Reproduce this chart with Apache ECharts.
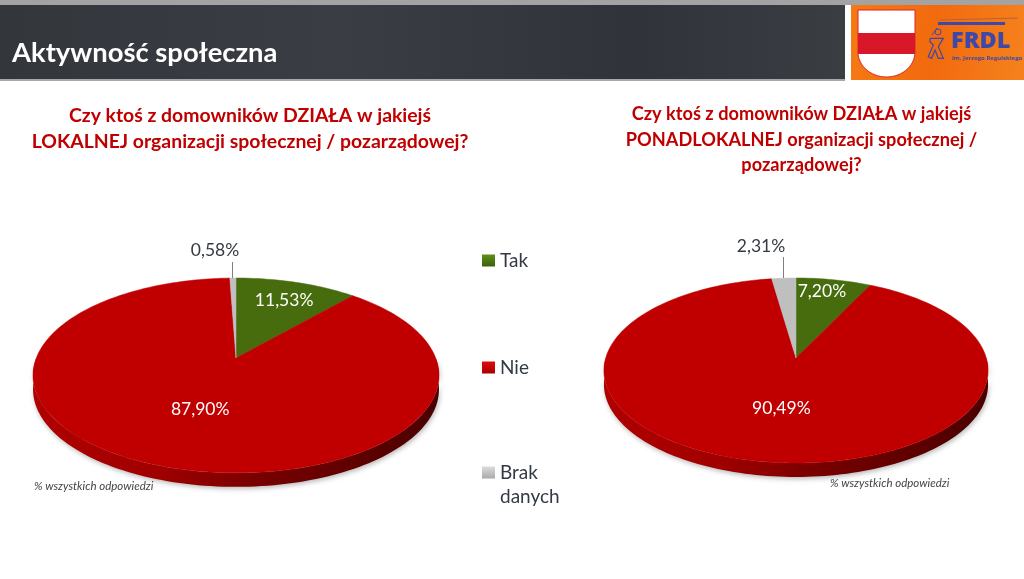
<!DOCTYPE html>
<html><head><meta charset="utf-8">
<style>html,body{margin:0;padding:0;background:#fff}#c{width:1024px;height:579px}</style>
<script src="https://cdn.jsdelivr.net/npm/echarts@6/dist/echarts.min.js"></script>
</head><body><div id="c"></div>
<script>
const categories = ['Tak', 'Nie', 'Brak danych'];
const localValues = [11.53, 87.90, 0.58];
const supraValues = [7.20, 90.49, 2.31];
const localLabels = ['11,53%', '87,90%', '0,58%'];
const supraLabels = ['7,20%', '90,49%', '2,31%'];
const mainTitle = 'Aktywność społeczna';
const localTitle = 'Czy ktoś z domowników DZIAŁA w jakiejś\nLOKALNEJ organizacji społecznej / pozarządowej?';
const supraTitle = 'Czy ktoś z domowników DZIAŁA w jakiejś\nPONADLOKALNEJ organizacji społecznej /\npozarządowej?';
const footnote = '% wszystkich odpowiedzi';

const FONT = 'Lato, "Open Sans", sans-serif';
const colors = ['#466c0e', '#c00000', '#bfbfbf'];
const legendColors = [['#5f8f1c', '#3c600a'], ['#e00a0a', '#a80000'], ['#dcdcdc', '#aaaaaa']];

// Projection of the tilted disc: a homography of the unit circle.
const pies = [
  {values: localValues, labels: localLabels, cx: 236, cy: 358, D: 199.7, A: 94.3, C: 0.179, depth: 14,
   frac: [0.75, 0.5], nudge: [[1, 1], [1, 3]], outer: {x: 215, y: 250, x1: 232.5, y1: 278, y2: 262}},
  {values: supraValues, labels: supraLabels, cx: 796, cy: 358, D: 190.3, A: 90.8, C: 0.135, depth: 14,
   frac: [0.83, 0.5], nudge: [[-6, 0], [1, 2]], outer: {x: 761, y: 246, x1: 783.5, y1: 278, y2: 257}}
];
function proj(p, deg, f) {
  const a = deg * Math.PI / 180, u = Math.sin(a) * f, v = Math.cos(a) * f, d = 1 + p.C * v;
  return [p.cx + p.D * u / d, p.cy - p.A * v / d];
}
function arc(p, a0, a1) {
  const pts = [], n = Math.max(2, Math.ceil((a1 - a0) / 1.5));
  for (let i = 0; i <= n; i++) pts.push(proj(p, a0 + (a1 - a0) * i / n, 1));
  return pts;
}
function makeRender(p, idx) {
  return function () {
    const total = p.values.reduce((s, x) => s + x, 0);
    let start = 0;
    for (let i = 0; i < idx; i++) start += p.values[i];
    const a0 = start / total * 360, a1 = (start + p.values[idx]) / total * 360, mid = (a0 + a1) / 2;
    const children = [];
    // side wall: only for the part of the rim on the near half of the disc
    const s0 = Math.max(a0, 90), s1 = Math.min(a1, 270);
    if (s1 > s0) {
      const rim = arc(p, s0, s1);
      const low = rim.slice().reverse().map(q => [q[0], q[1] + p.depth]);
      children.push({type: 'polygon', shape: {points: rim.concat(low)},
        style: {shadowBlur: 5, shadowColor: 'rgba(0,0,0,0.28)', shadowOffsetY: 2, shadowOffsetX: 1,
          fill: new echarts.graphic.LinearGradient(0, 0, 1, 0, [
          {offset: 0, color: '#b00000'}, {offset: 0.3, color: '#a00000'}, {offset: 0.55, color: '#780000'}, {offset: 1, color: '#4a0000'}])}});
    }
    children.push({type: 'polygon', shape: {points: [[p.cx, p.cy]].concat(arc(p, a0, a1))},
      style: {fill: colors[idx], stroke: colors[idx], lineWidth: 0.5}});
    if (idx === 2) {
      const o = p.outer;
      children.push({type: 'line', shape: {x1: o.x1, y1: o.y1, x2: o.x1, y2: o.y2}, style: {stroke: '#7f7f7f', lineWidth: 1}});
      children.push({type: 'text', x: o.x, y: o.y, style: {text: p.labels[idx], fill: '#333a44', font: '17.5px ' + FONT, align: 'center', verticalAlign: 'middle'}});
    } else {
      const q = proj(p, mid, p.frac[idx]);
      children.push({type: 'text', x: q[0] + p.nudge[idx][0], y: q[1] + p.nudge[idx][1], style: {text: p.labels[idx], fill: '#fff', font: '17.5px ' + FONT, align: 'center', verticalAlign: 'middle'}});
    }
    return {type: 'group', children};
  };
}
const series = [];
pies.forEach(p => categories.forEach((name, i) => series.push({
  type: 'custom', name, coordinateSystem: 'none', silent: true, animation: false,
  itemStyle: {color: new echarts.graphic.LinearGradient(0, 0, 0, 1, [
    {offset: 0, color: legendColors[i][0]}, {offset: 1, color: legendColors[i][1]}])},
  data: [[p.values[i]]], z: i === 2 ? 4 : 3, renderItem: makeRender(p, i)
})));

const legendBase = {orient: 'vertical', itemWidth: 13, itemHeight: 12, icon: 'rect', selectedMode: false, itemGap: 0,
  textStyle: {color: '#333a44', fontSize: 19, fontFamily: FONT}};
const titleL = {color: '#c00000', fontSize: 19.4, fontWeight: 700, fontFamily: FONT, lineHeight: 26};
const titleR = {color: '#c00000', fontSize: 18.2, fontWeight: 700, fontFamily: FONT, lineHeight: 25.5};
const noteStyle = {color: '#444', fontSize: 11.5, fontWeight: 400, fontStyle: 'italic', fontFamily: FONT};

// shield outline for the logo
const shield = [[858, 10], [915, 10], [915, 52]];
for (let a = 0; a <= 180; a += 6) {
  const r = a * Math.PI / 180;
  shield.push([886.5 + 28.5 * Math.cos(r), 52 + 25 * Math.sin(r)]);
}
shield.push([858, 10]);
const figure = [[30, 85], [70, 85], [55, 110], [70, 145], [55, 145], [45, 120], [35, 145], [25, 140], [40, 105], [30, 95], [30, 85]]
  .map(q => [920 + q[0] / 3, 10 + q[1] / 3]);

const option = {
  backgroundColor: '#fff',
  animation: false,
  title: [
    {text: localTitle, left: 250, top: 103, textAlign: 'center', padding: 0, textStyle: titleL},
    {text: supraTitle, left: 801.5, top: 101.5, textAlign: 'center', padding: 0, textStyle: titleR},
    {text: footnote, left: 34, top: 480, padding: 0, textStyle: noteStyle},
    {text: footnote, left: 830, top: 477, padding: 0, textStyle: noteStyle},
    {text: 'danych', left: 500, top: 487, padding: 0, textStyle: {color: '#333a44', fontSize: 19, fontWeight: 400, fontFamily: FONT}},
    {text: mainTitle, left: 12, top: 40, padding: 0, z: 20, textStyle: {color: '#fff', fontSize: 27.4, fontWeight: 700, fontFamily: FONT}}
  ],
  legend: [
    Object.assign({}, legendBase, {data: [categories[0]], left: 482, top: 251, padding: 0}),
    Object.assign({}, legendBase, {data: [categories[1]], left: 482, top: 358, padding: 0}),
    Object.assign({}, legendBase, {data: [categories[2]], left: 482, top: 463, padding: 0, formatter: () => 'Brak'})
  ],
  graphic: [
    {type: 'rect', z: 1, shape: {x: 0, y: 0, width: 1024, height: 5}, style: {fill: '#a3a3a3'}},
    {type: 'rect', z: 1, shape: {x: 0, y: 5, width: 845, height: 75}, style: {fill: new echarts.graphic.LinearGradient(0, 0, 1, 0, [
      {offset: 0, color: '#33363b'}, {offset: 0.4, color: '#3a3d44'}, {offset: 0.75, color: '#30333a'}, {offset: 1, color: '#3a3d42'}])}},
    {type: 'rect', z: 1, shape: {x: 0, y: 79, width: 845, height: 2}, style: {fill: '#a8a8a8'}},
    {type: 'rect', z: 1, shape: {x: 851, y: 5, width: 173, height: 75}, style: {fill: new echarts.graphic.LinearGradient(0, 0, 1, 0.3, [
      {offset: 0, color: '#f47a14'}, {offset: 0.5, color: '#f26a0e'}, {offset: 1, color: '#f5801c'}])}},
    {type: 'polygon', z: 2, shape: {points: shield}, style: {fill: '#fff', stroke: '#e0212b', lineWidth: 1}},
    {type: 'rect', z: 3, shape: {x: 858, y: 33, width: 57, height: 21}, style: {fill: '#d8172a'}},
    {type: 'rect', z: 3, shape: {x: 938, y: 22, width: 67, height: 3}, style: {fill: '#3c49a8'}},
    {type: 'line', z: 3, shape: {x1: 940, y1: 20, x2: 1018, y2: 18}, style: {stroke: '#b5623f', lineWidth: 1}},
    {type: 'text', z: 3, x: 951, y: 41, style: {text: 'FRDL', fill: '#3c49a8', font: '800 23.5px "Open Sans", sans-serif', verticalAlign: 'middle'}},
    {type: 'text', z: 3, x: 952, y: 58, style: {text: 'im. Jerzego Regulskiego', fill: '#3c49a8', font: '700 6px "Open Sans", sans-serif', verticalAlign: 'middle'}},
    {type: 'circle', z: 3, shape: {cx: 938, cy: 32, r: 3}, style: {fill: 'none', stroke: '#3c49a8', lineWidth: 1}},
    {type: 'line', z: 3, shape: {x1: 932, y1: 35, x2: 937, y2: 28}, style: {stroke: '#3c49a8', lineWidth: 1}},
    {type: 'polyline', z: 3, shape: {points: figure}, style: {fill: 'none', stroke: '#3c49a8', lineWidth: 1.2}}
  ],
  series
};
const chart = echarts.init(document.getElementById('c'), null, {renderer: 'canvas'});
chart.setOption(option);
</script></body></html>
